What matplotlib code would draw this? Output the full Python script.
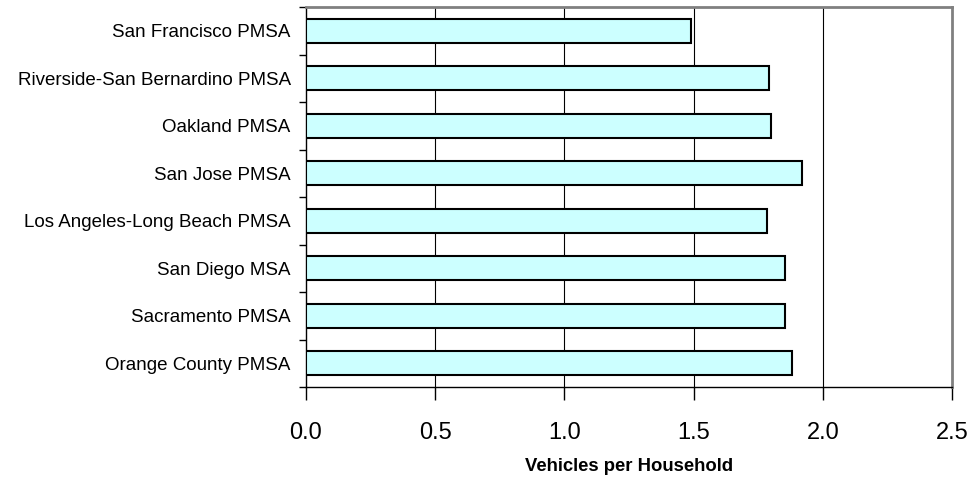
import numpy as np
import matplotlib
matplotlib.use("Agg")
import matplotlib.pyplot as plt

plt.rcParams['font.family'] = ['Liberation Sans', 'DejaVu Sans']

# donnees (de haut en bas)
regions = ["San Francisco PMSA", "Riverside-San Bernardino PMSA", "Oakland PMSA",
           "San Jose PMSA", "Los Angeles-Long Beach PMSA", "San Diego MSA",
           "Sacramento PMSA", "Orange County PMSA"]
vehicles = [1.49, 1.79, 1.80, 1.92, 1.785, 1.855, 1.855, 1.88]
xticks = [0.0, 0.5, 1.0, 1.5, 2.0, 2.5]

fig = plt.figure(figsize=(9.74, 4.83), dpi=100)
ax = fig.add_axes([306/974, 96/483, 646/974, 380/483])

y = np.arange(len(regions))
ax.barh(y, vehicles, height=0.5, color="#CCFFFF", edgecolor="black", linewidth=1.5, zorder=3)

ax.set_ylim(len(regions) - 0.5, -0.5)
ax.set_xlim(0, 2.5)

# grille verticale
for v in xticks[1:-1]:
    ax.axvline(v, color="black", linewidth=0.8, zorder=1)

ax.set_yticks(y)
ax.set_yticklabels(regions, fontsize=13.5)
ax.tick_params(axis="y", which="major", length=0, pad=11)
ax.set_yticks(np.arange(-0.5, len(regions)), minor=True)
ax.tick_params(axis="y", which="minor", length=5, width=1, direction="out")

ax.set_xticks(xticks)
ax.set_xticklabels(["%.1f" % v for v in xticks], fontsize=17)
ax.tick_params(axis="x", length=9, width=1, direction="out", pad=16)

ax.set_xlabel("Vehicles per Household", fontsize=13.3, fontweight="bold", labelpad=10)

for s in ["top", "right"]:
    ax.spines[s].set_color("#808080")
    ax.spines[s].set_linewidth(2)
for s in ["left", "bottom"]:
    ax.spines[s].set_color("black")
    ax.spines[s].set_linewidth(1)

fig.savefig("out.png", dpi=100)
